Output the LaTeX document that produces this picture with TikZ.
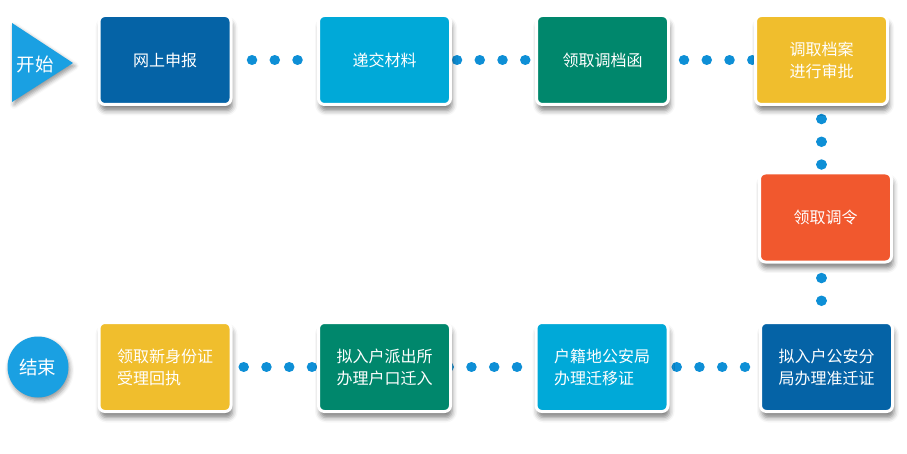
\documentclass[tikz,border=0pt]{standalone}
\usepackage{fontspec}
\setmainfont{Noto Sans CJK SC}
\usetikzlibrary{shadows.blur}
\definecolor{deepblue}{RGB}{5,99,166}
\definecolor{skyblue}{RGB}{0,169,216}
\definecolor{teal}{RGB}{0,135,108}
\definecolor{gold}{RGB}{240,190,45}
\definecolor{flame}{RGB}{241,88,46}
\definecolor{dotblue}{RGB}{14,143,214}
\definecolor{markblue}{RGB}{26,160,226}
\pgfdeclarelayer{background}
\pgfsetlayers{background,main}
\begin{document}
\begin{tikzpicture}[x=1pt,y=1pt,
    box/.style={draw=white, line width=3pt, rounded corners=6pt,
      minimum width=132pt, minimum height=89pt, outer sep=0pt,
      text=white, align=left, font=\fontsize{16}{22}\selectfont,
      blur shadow={shadow xshift=1.5pt, shadow yshift=-6pt,
        shadow blur radius=5pt, shadow opacity=50}},
    dots/.style={draw=dotblue, line width=10.5pt, line cap=round,
      dash pattern=on 0.01pt off 22.75pt}]
  \useasboundingbox (0,0) rectangle (907,453);
  % start and finish marks
  \path[fill=markblue, blur shadow={shadow xshift=2pt, shadow yshift=-3pt,
      shadow blur radius=4pt, shadow opacity=40}]
    (12,430) -- (73,390) -- (12,351) -- cycle;
  \node[text=white, font=\fontsize{18.5}{22}\selectfont] (start) at (35,389) {开始};
  \node[circle, fill=markblue, minimum size=61pt, inner sep=0pt, text=white,
      font=\fontsize{18.5}{22}\selectfont,
      blur shadow={shadow xshift=1.5pt, shadow yshift=-3pt,
        shadow blur radius=4pt, shadow opacity=40}] (finish) at (38,86) {结束};
  % steps
  \draw
    (165,393) node[box, fill=deepblue] (b1) {网上申报}
    (384.5,393) node[box, fill=skyblue] (b2) {递交材料}
    (602.5,393) node[box, fill=teal] (b3) {领取调档函}
    (821.5,393) node[box, fill=gold] (b4) {调取档案\\进行审批}
    (825.5,235.5) node[box, fill=flame] (b5) {领取调令}
    (826.5,86) node[box, fill=deepblue] (b6) {拟入户公安分\\局办理准迁证}
    (602,86) node[box, fill=skyblue] (b7) {户籍地公安局\\办理迁移证}
    (384.5,86) node[box, fill=teal] (b8) {拟入户派出所\\办理户口迁入}
    (165,86) node[box, fill=gold] (b9) {领取新身份证\\受理回执};
  \begin{pgfonlayer}{background}
    \begin{scope}[dots]
      \draw[shorten <=21pt, shorten >=19.5pt] (b1.east) to (b2.west);
      \draw[shorten <=6.5pt, shorten >=9.5pt] (b2.east) to (b3.west);
      \draw[shorten <=15.5pt] (b3.east) to (b4.west);
      \draw[shorten <=14.5pt] (b4.south) to (b4.south |- b5.north);
      \draw[shorten <=16pt, shorten >=20.5pt] (b4.south |- b5.south) to (b4.south |- b6.north);
      \draw[shorten <=15.5pt] (b6.west) to (b7.east);
      \draw[shorten <=19pt, shorten >=-3.5pt] (b7.west) to (b8.east);
      \draw[shorten <=6.5pt] (b8.west) to (b9.east);
    \end{scope}
  \end{pgfonlayer}
\end{tikzpicture}
\end{document}
